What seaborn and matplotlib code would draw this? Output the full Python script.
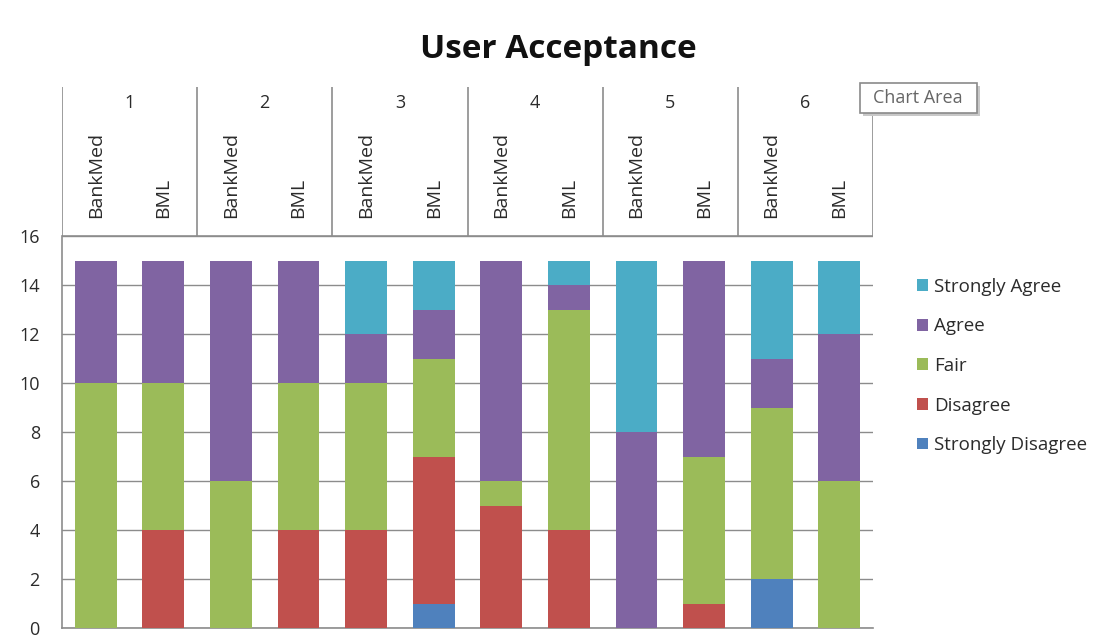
import numpy as np
import pandas as pd
import matplotlib
matplotlib.use('Agg')
import matplotlib.pyplot as plt
from matplotlib.patches import Rectangle
import seaborn as sns

groups = ['1', '2', '3', '4', '5', '6']
banks = ['BankMed', 'BML']
levels = ['Strongly Disagree', 'Disagree', 'Fair', 'Agree', 'Strongly Agree']
colors = {'Strongly Agree': '#4BACC6', 'Agree': '#8064A2', 'Fair': '#9BBB59',
          'Disagree': '#C0504D', 'Strongly Disagree': '#4F81BD'}

# one value per bar: 1 BankMed, 1 BML, 2 BankMed, ...
strongly_disagree = [0, 0, 0, 0, 0, 1, 0, 0, 0, 0, 2, 0]
disagree = [0, 4, 0, 4, 4, 6, 5, 4, 0, 1, 0, 0]
fair = [10, 6, 6, 6, 6, 4, 1, 9, 0, 6, 7, 6]
agree = [5, 5, 9, 5, 2, 2, 9, 1, 8, 8, 2, 6]
strongly_agree = [0, 0, 0, 0, 3, 2, 0, 1, 7, 0, 4, 3]

bars = [g + ' ' + b for g in groups for b in banks]
df = pd.DataFrame({'bar': bars,
                   'Strongly Disagree': strongly_disagree,
                   'Disagree': disagree,
                   'Fair': fair,
                   'Agree': agree,
                   'Strongly Agree': strongly_agree})
# cumulative heights so bars can be drawn on top of each other
cum = df[levels].cumsum(axis=1)
cum['bar'] = df['bar']

sns.set_style('white')
plt.rcParams['font.family'] = ['Open Sans', 'DejaVu Sans']
grid_c = '#8c8c8c'
txt_c = '#2b2b2b'

W, H = 1097, 641
fig = plt.figure(figsize=(W / 100, H / 100), dpi=100)
left, right = 62 / W, 873 / W
bottom, top = 1 - 628 / H, 1 - 236 / H
ax = fig.add_axes([left, bottom, right - left, top - bottom])

for lev in reversed(levels):
    sns.barplot(data=cum, x='bar', y=lev, order=bars, color=colors[lev],
                width=0.62, saturation=1, label=lev, ax=ax, zorder=3,
                linewidth=0, edgecolor='none')

ax.set_xlim(-0.5, len(bars) - 0.5)
ax.set_ylim(0, 16)
ax.set_yticks(np.arange(0, 17, 2))
ax.set_xticks([])
ax.set_xlabel('')
ax.set_ylabel('')
ax.yaxis.grid(True, color=grid_c, lw=1, zorder=0)
ax.tick_params(axis='y', labelsize=13, length=0, pad=16, colors=txt_c)
for s in ['top', 'right']:
    ax.spines[s].set_visible(False)
for s in ['left', 'bottom']:
    ax.spines[s].set_color(grid_c)
    ax.spines[s].set_linewidth(1.2)

ax.legend(loc='center left', bbox_to_anchor=(900 / W, 1 - 366 / H),
          bbox_transform=fig.transFigure, frameon=False, fontsize=13.5,
          labelspacing=1.15, handlelength=0.6, handleheight=0.6,
          handletextpad=0.3, labelcolor=txt_c)

# multi-level category header above the plot
hax = fig.add_axes([left, top, right - left, (1 - 87 / H) - top])
hax.set_xlim(-0.5, len(bars) - 0.5)
hax.set_ylim(0, 1)
hax.axis('off')
hax.axhline(0, color=grid_c, lw=1.2)
for k in range(len(groups) + 1):
    hax.axvline(k * 2 - 0.5, color=grid_c, lw=1.2)
for k, g in enumerate(groups):
    hax.text(k * 2 + 0.5, 0.89, g, ha='center', va='center', fontsize=13, color=txt_c)
for i, b in enumerate(bars):
    hax.text(i, 0.12, b.split(' ')[1], rotation=90, ha='center', va='bottom',
             fontsize=14, color=txt_c)

fig.text(558 / W, 1 - 49 / H, 'User Acceptance', ha='center', va='center',
         fontsize=24, fontweight='bold', color='#111111')

# "Chart Area" tooltip with a soft shadow
fig.patches.append(Rectangle((863 / W, 1 - 116 / H), 117 / W, 30 / H,
                             transform=fig.transFigure, fc='#c8c8c8', ec='none',
                             zorder=5))
fig.patches.append(Rectangle((860 / W, 1 - 113 / H), 117 / W, 30 / H,
                             transform=fig.transFigure, fc='white', ec='#8a8a8a',
                             lw=1.2, zorder=6))
fig.text(918 / W, 1 - 98 / H, 'Chart Area', ha='center', va='center',
         fontsize=13, color='#666666', zorder=7)

fig.savefig('out.png', dpi=100, facecolor='white')
